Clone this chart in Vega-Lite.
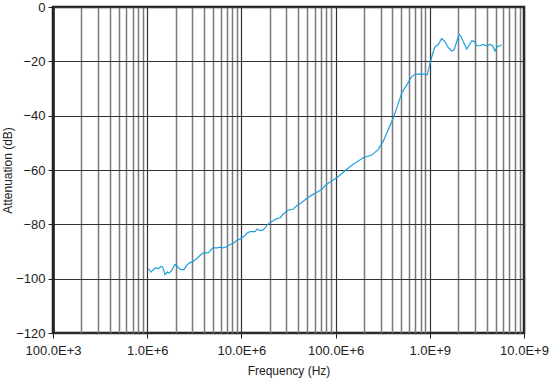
{
  "$schema": "https://vega.github.io/schema/vega-lite/v6.json",
  "width": 471,
  "height": 326,
  "autosize": {"type": "none"},
  "padding": {"left": 53, "top": 7, "right": 25, "bottom": 46},
  "background": "white",
  "config": {
    "font": "Liberation Sans",
    "view": {"stroke": "#222222", "strokeWidth": 2.5}
  },
  "data": {
    "values": [
      {"f": 1.027e6, "db": -96.33}, {"f": 1.097e6, "db": -97.57}, {"f": 1.161e6, "db": -96.69},
      {"f": 1.231e6, "db": -95.96}, {"f": 1.312e6, "db": -96.33}, {"f": 1.401e6, "db": -95.49},
      {"f": 1.461e6, "db": -95.74}, {"f": 1.545e6, "db": -98.52}, {"f": 1.635e6, "db": -97.57},
      {"f": 1.717e6, "db": -97.94}, {"f": 1.820e6, "db": -96.95}, {"f": 1.973e6, "db": -94.76},
      {"f": 2.057e6, "db": -95.12}, {"f": 2.192e6, "db": -96.33}, {"f": 2.324e6, "db": -96.69},
      {"f": 2.459e6, "db": -96.69}, {"f": 2.627e6, "db": -95.12}, {"f": 2.799e6, "db": -94.28},
      {"f": 3.086e6, "db": -93.55}, {"f": 3.354e6, "db": -92.67}, {"f": 3.635e6, "db": -91.46},
      {"f": 3.939e6, "db": -90.47}, {"f": 4.452e6, "db": -90.47}, {"f": 4.959e6, "db": -88.64},
      {"f": 5.549e6, "db": -88.64}, {"f": 5.927e6, "db": -88.42}, {"f": 6.427e6, "db": -88.64},
      {"f": 7.086e6, "db": -88.17}, {"f": 7.568e6, "db": -87.44}, {"f": 8.204e6, "db": -86.96},
      {"f": 8.916e6, "db": -85.98}, {"f": 9.663e6, "db": -85.35}, {"f": 1.092e7, "db": -84.15},
      {"f": 1.138e7, "db": -83.30}, {"f": 1.234e7, "db": -82.68}, {"f": 1.395e7, "db": -82.68},
      {"f": 1.475e7, "db": -81.69}, {"f": 1.576e7, "db": -82.32}, {"f": 1.708e7, "db": -82.06},
      {"f": 1.856e7, "db": -80.49}, {"f": 2.012e7, "db": -79.28}, {"f": 2.182e7, "db": -78.66},
      {"f": 2.370e7, "db": -77.82}, {"f": 2.569e7, "db": -77.67}, {"f": 2.785e7, "db": -76.21},
      {"f": 3.148e7, "db": -74.74}, {"f": 3.556e7, "db": -74.38}, {"f": 3.865e7, "db": -73.17},
      {"f": 4.368e7, "db": -71.96}, {"f": 4.934e7, "db": -70.50}, {"f": 5.576e7, "db": -69.25},
      {"f": 6.301e7, "db": -68.30}, {"f": 7.118e7, "db": -67.06}, {"f": 8.044e7, "db": -65.23},
      {"f": 9.092e7, "db": -64.02}, {"f": 1.027e8, "db": -62.82}, {"f": 1.161e8, "db": -61.35},
      {"f": 1.312e8, "db": -59.74}, {"f": 1.541e8, "db": -57.91}, {"f": 1.969e8, "db": -55.50},
      {"f": 2.416e8, "db": -54.51}, {"f": 2.840e8, "db": -52.43}, {"f": 3.210e8, "db": -49.39},
      {"f": 3.626e8, "db": -45.11}, {"f": 4.098e8, "db": -40.87}, {"f": 4.453e8, "db": -37.21},
      {"f": 5.032e8, "db": -31.72}, {"f": 5.687e8, "db": -28.65}, {"f": 6.427e8, "db": -25.61},
      {"f": 6.965e8, "db": -24.77}, {"f": 8.204e8, "db": -24.62}, {"f": 9.408e8, "db": -24.99},
      {"f": 1.005e9, "db": -20.74}, {"f": 1.063e9, "db": -17.67}, {"f": 1.136e9, "db": -14.63},
      {"f": 1.231e9, "db": -13.79}, {"f": 1.338e9, "db": -11.60}, {"f": 1.450e9, "db": -12.80},
      {"f": 1.572e9, "db": -15.00}, {"f": 1.708e9, "db": -16.21}, {"f": 1.807e9, "db": -15.84},
      {"f": 1.930e9, "db": -12.80}, {"f": 2.042e9, "db": -10.13}, {"f": 2.128e9, "db": -10.61},
      {"f": 2.268e9, "db": -12.80}, {"f": 2.464e9, "db": -15.48}, {"f": 2.627e9, "db": -14.01},
      {"f": 2.785e9, "db": -12.44}, {"f": 2.946e9, "db": -12.55}, {"f": 3.147e9, "db": -14.27},
      {"f": 3.411e9, "db": -14.27}, {"f": 3.698e9, "db": -13.79}, {"f": 4.018e9, "db": -14.27},
      {"f": 4.356e9, "db": -13.79}, {"f": 4.653e9, "db": -14.27}, {"f": 4.921e9, "db": -16.21},
      {"f": 5.206e9, "db": -14.63}, {"f": 5.799e9, "db": -14.01}
    ]
  },
  "mark": {"type": "line", "color": "#1fa0dc", "strokeWidth": 1.2, "interpolate": "linear"},
  "encoding": {
    "x": {
      "field": "f",
      "type": "quantitative",
      "scale": {"type": "log", "domain": [100000, 10000000000], "nice": false},
      "axis": {
        "title": "Frequency (Hz)",
        "titleFontSize": 12,
        "titleFontWeight": "normal",
        "titleColor": "#222222",
        "titlePadding": 8,
        "values": [100000, 200000, 300000, 400000, 500000, 600000, 700000, 800000, 900000,
                   1000000, 2000000, 3000000, 4000000, 5000000, 6000000, 7000000, 8000000, 9000000,
                   10000000, 20000000, 30000000, 40000000, 50000000, 60000000, 70000000, 80000000, 90000000,
                   100000000, 200000000, 300000000, 400000000, 500000000, 600000000, 700000000, 800000000, 900000000,
                   1000000000, 2000000000, 3000000000, 4000000000, 5000000000, 6000000000, 7000000000, 8000000000, 9000000000,
                   10000000000],
        "labelExpr": "abs(log(datum.value)/LN10 - round(log(datum.value)/LN10)) < 0.001 ? format(pow(10, round(log(datum.value)/LN10) - 3*floor(round(log(datum.value)/LN10)/3)), '.1f') + 'E+' + (3*floor(round(log(datum.value)/LN10)/3)) : ''",
        "labelFontSize": 13,
        "labelColor": "#222222",
        "labelPadding": 6,
        "labelFlush": false,
        "labelOverlap": false,
        "domain": false,
        "ticks": true,
        "tickColor": "#222222",
        "tickSize": {"condition": {"test": "abs(log(datum.value)/LN10 - round(log(datum.value)/LN10)) < 0.001", "value": 5}, "value": 0},
        "tickWidth": 1,
        "grid": true,
        "gridColor": {"condition": {"test": "abs(log(datum.value)/LN10 - round(log(datum.value)/LN10)) < 0.001", "value": "#333333"}, "value": "#7a7a7a"},
        "gridWidth": {"condition": {"test": "abs(log(datum.value)/LN10 - round(log(datum.value)/LN10)) < 0.001", "value": 1.2}, "value": 1.5},
        "gridOpacity": 1
      }
    },
    "y": {
      "field": "db",
      "type": "quantitative",
      "scale": {"domain": [-120, 0], "nice": false, "zero": false},
      "axis": {
        "title": "Attenuation (dB)",
        "titleFontSize": 12,
        "titleFontWeight": "normal",
        "titleColor": "#222222",
        "titleX": -51,
        "titleBaseline": "top",
        "titleAngle": -90,
        "values": [-120, -100, -80, -60, -40, -20, 0],
        "labelFontSize": 13,
        "labelColor": "#222222",
        "labelPadding": 3,
        "labelFlush": false,
        "labelOverlap": false,
        "domain": true,
        "domainColor": "#222222",
        "domainWidth": 2.5,
        "ticks": true,
        "tickColor": "#222222",
        "tickSize": 5,
        "tickWidth": 1,
        "grid": true,
        "gridColor": "#333333",
        "gridWidth": 1.2,
        "gridOpacity": 1
      }
    }
  }
}
